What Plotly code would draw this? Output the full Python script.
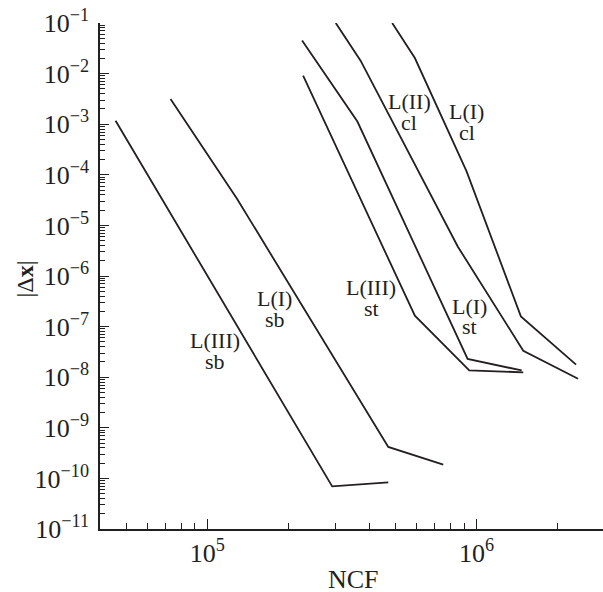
import math
import plotly.graph_objects as go

# ---- data ----
l3sb_x = [4.57e4, 2.91e5, 4.70e5]
l3sb_y = [1.17e-3, 6.95e-11, 8.34e-11]
l1sb_x = [7.31e4, 1.29e5, 4.70e5, 7.52e5]
l1sb_y = [3.15e-3, 3.37e-5, 4.18e-10, 1.87e-10]
l3st_x = [2.27e5, 5.90e5, 9.39e5, 1.49e6]
l3st_y = [9.1e-3, 1.64e-7, 1.36e-8, 1.25e-8]
l1st_x = [2.25e5, 3.61e5, 9.26e5, 1.47e6]
l1st_y = [4.53e-2, 1.13e-3, 2.29e-8, 1.36e-8]
l2cl_x = [3.00e5, 3.71e5, 8.52e5, 1.49e6, 2.38e6]
l2cl_y = [1.0e-1, 1.80e-2, 3.79e-6, 3.34e-8, 9.33e-9]
l1cl_x = [4.86e5, 5.90e5, 9.18e5, 1.46e6, 2.34e6]
l1cl_y = [1.0e-1, 2.03e-2, 1.17e-4, 1.59e-7, 1.77e-8]

series = [(l3sb_x, l3sb_y), (l1sb_x, l1sb_y), (l3st_x, l3st_y),
          (l1st_x, l1st_y), (l2cl_x, l2cl_y), (l1cl_x, l1cl_y)]

# curve labels: (text line 1, text line 2), NCF, |dx| of line 1, |dx| of line 2
label_text = [("L(II)", "cl"), ("L(I)", "cl"), ("L(III)", "st"),
              ("L(I)", "st"), ("L(I)", "sb"), ("L(III)", "sb")]
label_ncf = [5.63e5, 9.19e5, 4.06e5, 9.38e5, 1.784e5, 1.071e5]
label_y1 = [2.84e-3, 1.80e-3, 5.98e-7, 2.48e-7, 3.62e-7, 5.28e-8]
label_y2 = [1.10e-3, 7.00e-4, 2.32e-7, 1.01e-7, 1.36e-7, 2.06e-8]

y_tick_exp = list(range(-11, 0))
x_tick_exp = [5, 6]

FONT = "Liberation Serif"
INK = "#231f20"

fig = go.Figure()
for xs, ys in series:
    fig.add_trace(go.Scatter(x=xs, y=ys, mode="lines",
                             line=dict(color=INK, width=1.8),
                             showlegend=False, hoverinfo="skip"))

ann = []
for (t1, t2), nx, y1, y2 in zip(label_text, label_ncf, label_y1, label_y2):
    for t, yy in ((t1, y1), (t2, y2)):
        ann.append(dict(x=math.log10(nx), y=math.log10(yy), xref="x", yref="y",
                        text=t, showarrow=False,
                        xanchor="center", yanchor="middle",
                        font=dict(family=FONT, size=22, color=INK)))

ann.append(dict(x=-0.151, y=0.493, xref="paper", yref="paper",
                xanchor="center", yanchor="middle",
                text="|Δ<b>x</b>|", textangle=-90, showarrow=False,
                font=dict(family=FONT, size=24, color=INK)))
ann.append(dict(x=0.504, y=-0.0665, xref="paper", yref="paper",
                text="NCF", showarrow=False, xanchor="center", yanchor="top",
                font=dict(family=FONT, size=26, color=INK)))

y_minor = [m * 10 ** e for e in range(-11, -1) for m in range(2, 10)]
x_minor = [m * 10 ** e for e in range(4, 7) for m in range(2, 10)]

fig.update_layout(
    width=603, height=592,
    margin=dict(l=100, r=0, t=23, b=63),
    paper_bgcolor="white", plot_bgcolor="white",
    annotations=ann,
    xaxis=dict(type="log", range=[math.log10(4e4), math.log10(4e4) + 503 / 269.4],
               showgrid=False, zeroline=False, showline=True,
               linecolor=INK, linewidth=1.5,
               ticks="inside", ticklen=10, tickwidth=1.3, tickcolor=INK,
               tickvals=[10 ** e for e in x_tick_exp],
               ticktext=[f"10<sup>{e}</sup>" for e in x_tick_exp],
               tickfont=dict(family=FONT, size=26, color=INK),
               minor=dict(tickvals=x_minor, ticks="inside", ticklen=6.5,
                          tickwidth=1.3, tickcolor=INK, showgrid=False)),
    yaxis=dict(type="log", range=[-11, -1],
               showgrid=False, zeroline=False, showline=True,
               linecolor=INK, linewidth=1.5,
               ticks="inside", ticklen=9, tickwidth=1.3, tickcolor=INK,
               tickvals=[10 ** e for e in y_tick_exp],
               ticktext=[f"10<sup>\u2212{-e}</sup>" for e in y_tick_exp],
               tickfont=dict(family=FONT, size=26, color=INK),
               ticklabelstandoff=4,
               minor=dict(tickvals=y_minor, ticks="inside", ticklen=5.5,
                          tickwidth=1.3, tickcolor=INK, showgrid=False)),
)

fig.write_html("out.html")
